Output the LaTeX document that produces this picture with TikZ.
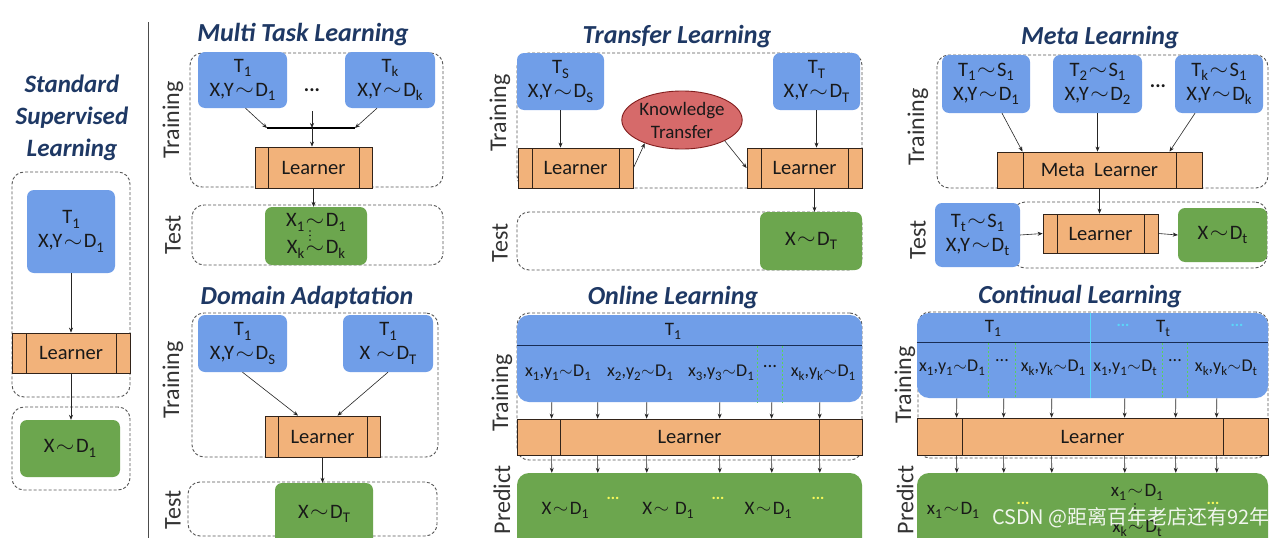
\documentclass[tikz,border=0pt]{standalone}
\usepackage{fontspec}
\setmainfont{Carlito}
\newfontfamily\cjk{Noto Sans CJK SC}
\usetikzlibrary{arrows.meta,shapes.geometric}
\definecolor{bluebx}{RGB}{112,158,232}
\definecolor{orng}{RGB}{242,178,122}
\definecolor{grnbx}{RGB}{108,166,78}
\definecolor{redel}{RGB}{214,106,106}
\definecolor{redln}{RGB}{130,30,30}
\definecolor{ttlc}{RGB}{30,56,100}
\definecolor{dashc}{RGB}{85,85,85}
\definecolor{txt}{RGB}{25,25,25}
\definecolor{dkln}{RGB}{25,45,85}
\definecolor{gdsh}{RGB}{90,210,90}
\definecolor{cyn}{RGB}{90,215,250}
\definecolor{ylw}{RGB}{250,250,90}
\definecolor{lrnln}{RGB}{50,35,25}
\newcommand{\fs}[2]{\fontsize{#1}{#2}\selectfont}
\newcommand{\dn}[1]{\raisebox{-0.45ex}{\scalebox{0.72}{#1}}}
\newcommand{\tsim}{\kern1.5pt\raisebox{0.05ex}{\scalebox{1.15}[1]{$\sim$}}\kern1.5pt}
\newcommand{\nsim}{\kern0.5pt\raisebox{0.05ex}{$\sim$}\kern0.5pt}
\newcommand{\bx}[7]{\node[#1,minimum width={#5-#3},minimum height={#6-#4}] (#2) at ({(#3+#5)/2},{(#4+#6)/2}) {#7};}
\tikzset{
  blu/.style={fill=bluebx,rounded corners=7pt,inner sep=0pt,align=center,font=\fs{20.5}{24},text=txt},
  grn/.style={fill=grnbx,rounded corners=7pt,inner sep=0pt,align=center,font=\fs{20.5}{24},text=txt},
  lrn/.style={fill=orng,draw=lrnln,line width=0.8pt,inner sep=0pt,font=\fs{20.5}{24},text=txt,
    path picture={\draw[lrnln,line width=0.9pt]
      ([xshift=#1]path picture bounding box.north west) -- ([xshift=#1]path picture bounding box.south west)
      ([xshift=-#1]path picture bounding box.north east) -- ([xshift=-#1]path picture bounding box.south east);}},
  lrn/.default=14,
  dbox/.style={draw=dashc,dash pattern=on 3pt off 2pt,line width=0.9pt,rounded corners=12pt,inner sep=0pt},
  ttl/.style={font=\fs{26}{32}\bfseries\itshape,text=ttlc,align=center},
  lbl/.style={font=\fs{24}{28},rotate=90,text=black!80},
  arr/.style={-{Stealth[length=5pt,width=4pt]},line width=0.6pt,draw=black!85},
  itm/.style={font=\fs{19}{22},text=txt,inner sep=0pt},
  citm/.style={font=\fs{18}{22},text=txt,inner sep=0pt},
  dkline/.style={draw=dkln,line width=1.2pt},
  gdash/.style={draw=gdsh,dash pattern=on 2pt off 2pt,line width=0.8pt},
  ydots/.style={font=\fs{16}{18}\bfseries,text=ylw,inner sep=0pt},
}
\begin{document}
\begin{tikzpicture}[x=1pt,y=-1pt]
\clip (0,0) rectangle (1286,538);
\fill[white] (0,0) rectangle (1286,538);
% separator
\draw[black!70,line width=1pt] (148,22) -- (148,545);

% ===== Standard supervised learning =====
\node[ttl,font=\fs{25}{32}\bfseries\itshape] (SSLt) at (72,118) {Standard\\Supervised\\Learning};
\bx{dbox}{SSLd}{12}{172}{130}{397}{}
\bx{dbox}{SSLd2}{12}{407}{130}{490}{}
\bx{blu}{SSLb}{27}{190}{115}{273}{T\dn1\\X,Y\tsim D\dn1}
\bx{lrn}{SSLl}{12}{333}{130}{373}{Learner}
\bx{grn}{SSLg}{20}{420}{120}{477}{X\tsim D\dn1}
\draw[arr] (SSLb.south) -- (SSLb.south |- SSLl.north);
\draw[arr] (SSLl.south) -- (SSLl.south |- SSLg.north);

% ===== Multi task learning =====
\node[ttl] (MTt) at (303,35) {Multi Task Learning};
\node[lbl] (MTtr) at (173,120) {Training};
\node[lbl] (MTte) at (173,235) {Test};
\bx{dbox}{MTd}{190}{53}{443}{187}{}
\bx{dbox}{MTd2}{192}{205}{443}{265}{}
\bx{blu}{MT1}{198}{52}{287}{108}{T\dn1\\X,Y\tsim D\dn1}
\bx{blu}{MTk}{345}{52}{435}{108}{T\dn{k}\\X,Y\tsim D\dn{k}}
\node[font=\fs{20}{22}\bfseries,text=txt] (MTdots) at (312,90) {...};
\bx{lrn=13}{MTl}{255}{147}{372}{188}{Learner}
\bx{grn}{MTg}{265}{207}{367}{265}{X\dn1\tsim D\dn1\\[3pt]X\dn{k}\tsim D\dn{k}}
\fill[txt] (310,231) circle (0.8) (310,235.5) circle (0.8) (310,240) circle (0.8);
\coordinate (mbl) at (267,128);
\coordinate (mbr) at (355,128);
\coordinate (mbc) at (312,128);
\coordinate (mtop) at (312,111);
\draw[black,line width=2.5pt] (mbl) -- (mbr);
\draw[arr] ([xshift=3]MT1.south) -- (mbl);
\draw[arr] ([xshift=-13]MTk.south) -- (mbr);
\draw[arr] (mtop) -- (mbc);
\draw[arr] (mbc) -- (mbc |- MTl.north);
\draw[arr] (MTl.south) -- (MTl.south |- MTg.north);

% ===== Domain adaptation =====
\node[ttl] (DAt) at (307,297) {Domain Adaptation};
\node[lbl] (DAtr) at (173,380) {Training};
\node[lbl] (DAte) at (173,510) {Test};
\bx{dbox}{DAd}{192}{313}{438}{457}{}
\bx{dbox}{DAd2}{188}{482}{437}{536}{}
\bx{blu}{DA1}{198}{315}{287}{372}{T\dn1\\X,Y\tsim D\dn{S}}
\bx{blu}{DA2}{343}{315}{433}{372}{T\dn1\\X \tsim D\dn{T}}
\bx{lrn=13}{DAl}{265}{416}{380}{457}{Learner}
\bx{grn}{DAg}{275}{483}{373}{545}{X\tsim D\dn{T}}
\draw[arr] (DA1.south) -- ([xshift=-24.5]DAl.north);
\draw[arr] (DA2.south) -- ([xshift=15]DAl.north);
\draw[arr] (DAl.south) -- (DAl.south |- DAg.north);

% ===== Transfer learning =====
\node[ttl] (TLt) at (677,37) {Transfer Learning};
\node[lbl] (TLtr) at (500,113) {Training};
\node[lbl] (TLte) at (500,243) {Test};
\bx{dbox}{TLd}{517}{53}{862}{188}{}
\bx{dbox}{TLd2}{517}{212}{862}{270}{}
\bx{blu}{TLs}{517}{53}{604}{110}{T\dn{S}\\X,Y\tsim D\dn{S}}
\bx{blu}{TLtt}{773}{53}{860}{110}{T\dn{T}\\X,Y\tsim D\dn{T}}
\node[ellipse,fill=redel,draw=redln,line width=0.9pt,minimum width=110,minimum height=58,inner sep=0pt,align=center,font=\fs{19}{23},text=txt] (TLk) at (682,120) {Knowledge\\Transfer};
\bx{lrn}{TLl1}{518}{148}{633}{188}{Learner}
\bx{lrn}{TLl2}{747}{148}{862}{188}{Learner}
\bx{grn}{TLg}{760}{212}{862}{270}{X\tsim D\dn{T}}
\draw[arr] (TLs.south) -- (TLs.south |- TLl1.north);
\draw[arr] (TLtt.south) -- (TLtt.south |- TLl2.north);
\draw[arr] (TLl1.east) -- (TLk.212);
\draw[arr] (TLk.334) -- (TLl2.west);
\draw[arr] ([xshift=10]TLl2.south) -- ([xshift=10]TLl2.south |- TLg.north);

% ===== Online learning =====
\node[ttl] (OLt) at (673,298) {Online Learning};
\node[lbl] (OLtr) at (502,393) {Training};
\node[lbl] (OLpr) at (502,500) {Predict};
\bx{dbox}{OLd}{517}{313}{862}{460}{}
\bx{blu,rounded corners=12pt}{OLb}{517}{315}{862}{402}{}
\draw[dkline] ([yshift=-31]OLb.north west) -- ([yshift=-31]OLb.north east);
\draw[gdash] ([xshift=241,yshift=-31]OLb.north west) -- ([xshift=241]OLb.south west);
\draw[gdash] ([xshift=266,yshift=-31]OLb.north west) -- ([xshift=266]OLb.south west);
\node[itm] (OLT) at (673,331) {T\dn1};
\node[citm] (OL1) at (558,373) {x\dn1,y\dn1\nsim D\dn1};
\node[citm] (OL2) at (640,373) {x\dn2,y\dn2\nsim D\dn1};
\node[citm] (OL3) at (721,373) {x\dn3,y\dn3\nsim D\dn1};
\node[itm] (OLdd) at (770,366) {...};
\node[citm] (OLk) at (823,373) {x\dn{k},y\dn{k}\nsim D\dn1};
\bx{lrn=43}{OLl}{517}{419}{862}{455}{Learner}
\bx{grn,rounded corners=12pt}{OLg}{517}{473}{862}{550}{}
\node[itm] (OLg1) at (565,510) {X\tsim D\dn1};
\node[ydots] (OLy1) at (613,498) {...};
\node[itm] (OLg2) at (668,510) {X\tsim\ D\dn1};
\node[ydots] (OLy2) at (718,498) {...};
\node[itm] (OLg3) at (768,510) {X\tsim D\dn1};
\node[ydots] (OLy3) at (818,498) {...};
\foreach \x in {35,81,130,203,255,303}{
  \draw[arr] ([xshift=\x]OLb.south west) -- ([xshift=\x]OLl.north west);
  \draw[arr] ([xshift=\x]OLl.south west) -- ([xshift=\x]OLg.north west);
}

% ===== Meta learning =====
\node[ttl] (MLt) at (1100,38) {Meta Learning};
\node[lbl] (MLtr) at (918,127) {Training};
\node[lbl] (MLte) at (918,240) {Test};
\bx{dbox}{MLd}{937}{55}{1268}{188}{}
\bx{dbox}{MLd2}{1013}{202}{1267}{268}{}
\bx{blu}{ML1}{942}{55}{1030}{113}{T\dn1\tsim S\dn1\\X,Y\tsim D\dn1}
\bx{blu}{ML2}{1053}{55}{1142}{113}{T\dn2\tsim S\dn1\\X,Y\tsim D\dn2}
\bx{blu}{MLk}{1175}{55}{1263}{113}{T\dn{k}\tsim S\dn1\\X,Y\tsim D\dn{k}}
\node[font=\fs{20}{22}\bfseries,text=txt] (MLdots) at (1158,86) {...};
\bx{lrn=26}{MLm}{997}{152}{1202}{188}{Meta\ \ Learner}
\bx{blu}{MLtt}{935}{203}{1020}{267}{T\dn{t}\tsim S\dn1\\X,Y\tsim D\dn{t}}
\bx{lrn}{MLl}{1043}{214}{1158}{253}{Learner}
\bx{grn}{MLg}{1178}{208}{1267}{262}{X\tsim D\dn{t}}
\draw[arr] ([xshift=16]ML1.south) -- ([xshift=-77]MLm.north);
\draw[arr] (ML2.south) -- (ML2.south |- MLm.north);
\draw[arr] ([xshift=-24]MLk.south) -- ([xshift=70]MLm.north);
\draw[arr] (MLm.south) -- (MLm.south |- MLl.north);
\draw[arr] (MLtt.east) -- (MLl.west);
\draw[arr] (MLl.east) -- (MLg.west);

% ===== Continual learning =====
\node[ttl] (CLt) at (1080,297) {Continual Learning};
\node[lbl] (CLtr) at (905,385) {Training};
\node[lbl] (CLpr) at (905,500) {Predict};
\bx{dbox}{CLd}{918}{312}{1268}{458}{}
\bx{blu,rounded corners=12pt}{CLb}{917}{313}{1268}{398}{}
\draw[dkline] ([yshift=-30]CLb.north west) -- ([yshift=-30]CLb.north east);
\draw[cyn,line width=1pt] ([xshift=174]CLb.north west) -- ([xshift=174]CLb.south west);
\foreach \x in {72,99,246,271}{
  \draw[gdash] ([xshift=\x,yshift=-30]CLb.north west) -- ([xshift=\x]CLb.south west);
}
\node[itm] (CLT1) at (993,328) {T\dn1};
\node[itm,text=cyn,font=\fs{16}{18}\bfseries] (CLc1) at (1123,325) {...};
\node[itm] (CLTt) at (1163,328) {T\dn{t}};
\node[itm,text=cyn,font=\fs{16}{18}\bfseries] (CLc2) at (1237,325) {...};
\node[citm] (CL1) at (952,368) {x\dn1,y\dn1\nsim D\dn1};
\node[citm] (CLd1) at (1002,361) {...};
\node[citm] (CL2) at (1053,368) {x\dn{k},y\dn{k}\nsim D\dn1};
\node[citm] (CL3) at (1125,368) {x\dn1,y\dn1\nsim D\dn{t}};
\node[citm] (CLd2) at (1175,361) {...};
\node[citm] (CL4) at (1226,368) {x\dn{k},y\dn{k}\nsim D\dn{t}};
\bx{lrn=45}{CLl}{917}{418}{1268}{455}{Learner}
\bx{grn,rounded corners=12pt}{CLg}{917}{473}{1268}{550}{}
\foreach \x in {40,87,135,208,259,300}{
  \draw[arr] ([xshift=\x]CLb.south west) -- ([xshift=\x]CLl.north west);
  \draw[arr] ([xshift=\x]CLl.south west) -- ([xshift=\x]CLg.north west);
}
\node[itm] (CLg1) at (953,510) {x\dn1\tsim D\dn1};
\node[ydots] (CLy1) at (1023,503) {...};
\node[itm] (CLg2) at (1137,492) {x\dn1\tsim D\dn1};
\fill[txt] (1135,504) circle (0.8) (1135,508) circle (0.8) (1135,512) circle (0.8);
\node[itm] (CLg3) at (1137,528) {x\dn{k}\tsim D\dn{t}};
\node[ydots] (CLy2) at (1213,503) {...};
\node[text=white,opacity=0.9,font=\cjk\fs{20}{24},inner sep=0pt] (wm) at (1131,518) {CSDN @距离百年老店还有92年};
\end{tikzpicture}
\end{document}
